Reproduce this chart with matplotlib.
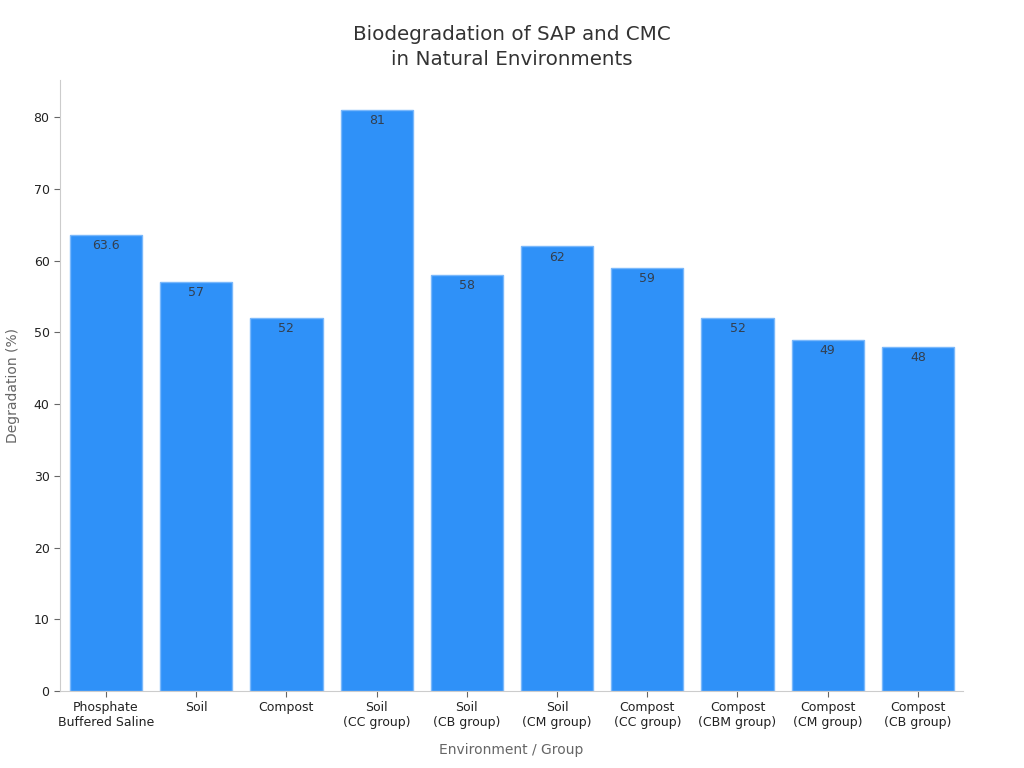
import matplotlib
matplotlib.use('Agg')
import matplotlib.pyplot as plt
import numpy as np

categories = ["Phosphate\nBuffered Saline", "Soil", "Compost", "Soil\n(CC group)", "Soil\n(CB group)",
	"Soil\n(CM group)", "Compost\n(CC group)", "Compost\n(CBM group)", "Compost\n(CM group)", "Compost\n(CB group)"]
degradation = [63.6, 57, 52, 81, 58, 62, 59, 52, 49, 48]
value_labels = ["63.6", "57", "52", "81", "58", "62", "59", "52", "49", "48"]

BAR_COLOR = "#2f91f8"
EDGE_COLOR = "#7ab8fb"
GRID_GREY = "#cccccc"

fig = plt.figure(figsize=(10.24, 7.68), dpi=100)
ax = fig.add_axes([60/1024, 77/768, 903/1024, 611/768])

x = np.arange(len(categories))
bars = ax.bar(x, degradation, width=0.8, color=BAR_COLOR, edgecolor=EDGE_COLOR, linewidth=1)

for rect, lab in zip(bars, value_labels):
	ax.annotate(lab, (rect.get_x() + rect.get_width()/2, rect.get_height()),
		xytext=(0, -3), textcoords="offset points", ha="center", va="top",
		fontsize=9, color="#333f4f")

ax.set_xlim(-0.51, 9.5)
ax.set_ylim(0, 85.2)
ax.set_yticks(np.arange(0, 81, 10))
ax.set_xticks(x)
ax.set_xticklabels(categories, fontsize=9, color="#222222")
ax.tick_params(axis="y", labelsize=9, labelcolor="#222222", color="#666666", length=4)
ax.tick_params(axis="x", color="#666666", length=4)

for side in ["top", "right"]:
	ax.spines[side].set_visible(False)
for side in ["left", "bottom"]:
	ax.spines[side].set_color(GRID_GREY)

ax.set_ylabel("Degradation (%)", fontsize=10, color="#666666", labelpad=10)
ax.set_xlabel("Environment / Group", fontsize=10, color="#666666", labelpad=10)
fig.text(512/1024, 1 - 47/768, "Biodegradation of SAP and CMC\nin Natural Environments",
	fontsize=14.3, color="#333333", ha="center", va="center", linespacing=1.4)

fig.savefig("out.png", dpi=100)
